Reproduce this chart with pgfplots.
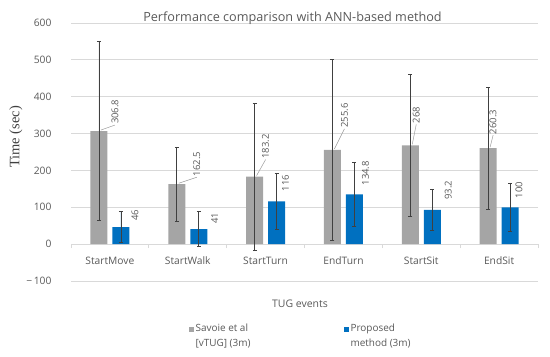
\documentclass[border=0pt]{standalone}
\usepackage{fontspec}
\setmainfont{Open Sans}
\newfontfamily\seriffont{Liberation Serif}
\usepackage{pgfplots}
\usepackage{pgfplotstable}
\pgfplotsset{compat=1.18}
\definecolor{barGray}{HTML}{A5A5A5}
\definecolor{barBlue}{HTML}{0070C0}
\definecolor{gridGray}{HTML}{D9D9D9}
\definecolor{txtGray}{HTML}{595959}
\definecolor{errGray}{HTML}{404040}
\definecolor{leadGray}{HTML}{A6A6A6}

\pgfplotstableread{
x y err dx dy
0 306.8 242 16 7
1 162.5 100 20 8
2 183.2 199 11 18
3 255.6 245 12 22
4 268 192 6 22
5 260.3 165 5 14
}\savoie
\pgfplotstableread{
x y err dx dy
0 46 42 14 6
1 41 47 16 5
2 116 76 9 10
3 134.8 86 11 9
4 93.2 55 16 10
5 100 66 9 9
}\proposed

\begin{document}
\begin{tikzpicture}
\useasboundingbox (0,0) rectangle (550bp,357bp);
\begin{axis}[
  at={(71bp,76bp)}, anchor=south west,
  scale only axis, width=467bp, height=258bp,
  ybar, bar width=17bp,
  xmin=-0.5, xmax=5.5, ymin=-100, ymax=600,
  axis x line=middle, axis y line=left,
  axis line style={-},
  x axis line style={draw=gridGray, line width=0.75bp},
  y axis line style={draw=none},
  ytick={-100,0,...,600},
  yticklabels={−\,100,0,100,200,300,400,500,600},
  ytick style={draw=none},
  xtick={0,...,5},
  xticklabels={StartMove,StartWalk,StartTurn,EndTurn,StartSit,EndSit},
  major tick length=0pt,
  minor xtick={-0.5,0.5,...,5.5},
  minor tick style={draw=gridGray, line width=0.75bp},
  minor tick length=4bp,
  tick align=outside,
  ymajorgrids, grid style={draw=gridGray, line width=0.75bp},
  ticklabel style={font=\fontsize{10.3}{12}\selectfont, text=txtGray},
  yticklabel style={xshift=-16bp},
  xticklabel style={yshift=-9bp},
  legend style={at={(0.245,-0.151)}, anchor=north west, draw=none, fill=none,
    legend columns=2, font=\fontsize{10}{15}\selectfont, text=txtGray,
    cells={align=left},
    /tikz/every even column/.append style={column sep=91bp}},
  legend image code/.code={\fill[#1] (0bp,4.5bp) rectangle (5bp,9.5bp);},
  clip=false,
]
\addplot[ybar, bar width=17bp, bar shift=-11bp, fill=barGray, draw=none,
  nodes near coords={\pgfmathprintnumber[assume math mode=true]{\pgfplotspointmeta}},
  visualization depends on={\thisrow{dx}\as\dx},
  visualization depends on={\thisrow{dy}\as\dy},
  every node near coord/.append style={font=\fontsize{9.5}{11}\selectfont, text=txtGray,
     inner sep=0pt, anchor=west, xshift=\dx bp, yshift=\dy bp, rotate=90,
     append after command={([yshift=-1bp]\tikzlastnode.west) edge[draw=leadGray, line width=0.5bp] ++({(2-\dx)*1bp},{(2-\dy)*1bp})}},
  error bars/.cd, y dir=both, y explicit,
  error bar style={draw=errGray, line width=0.75bp},
  error mark options={draw=errGray, rotate=90, mark size=2bp, line width=0.75bp}
] table[x=x, y=y, y error=err] {\savoie};
\addlegendentry{Savoie et al\\{[vTUG]} (3m)}
\addplot[ybar, bar width=17bp, bar shift=11bp, fill=barBlue, draw=none,
  nodes near coords={\pgfmathprintnumber[assume math mode=true]{\pgfplotspointmeta}},
  visualization depends on={\thisrow{dx}\as\dx},
  visualization depends on={\thisrow{dy}\as\dy},
  every node near coord/.append style={font=\fontsize{9.5}{11}\selectfont, text=txtGray,
     inner sep=0pt, anchor=west, xshift=\dx bp, yshift=\dy bp, rotate=90},
  error bars/.cd, y dir=both, y explicit,
  error bar style={draw=errGray, line width=0.75bp},
  error mark options={draw=errGray, rotate=90, mark size=2bp, line width=0.75bp}
] table[x=x, y=y, y error=err] {\proposed};
\addlegendentry{Proposed\\method (3m)}
\end{axis}
\node[anchor=base, font=\fontsize{12.7}{14}\selectfont, text=txtGray] at (292.5bp,335bp) {Performance comparison with ANN-based method};
\node[font=\fontsize{10.5}{12}\selectfont, text=txtGray] at (300bp,53bp) {TUG events};
\node[rotate=90, font=\seriffont\fontsize{14.5}{16}\selectfont, text=errGray] at (16bp,220bp) {Time (sec)};
\end{tikzpicture}
\end{document}
